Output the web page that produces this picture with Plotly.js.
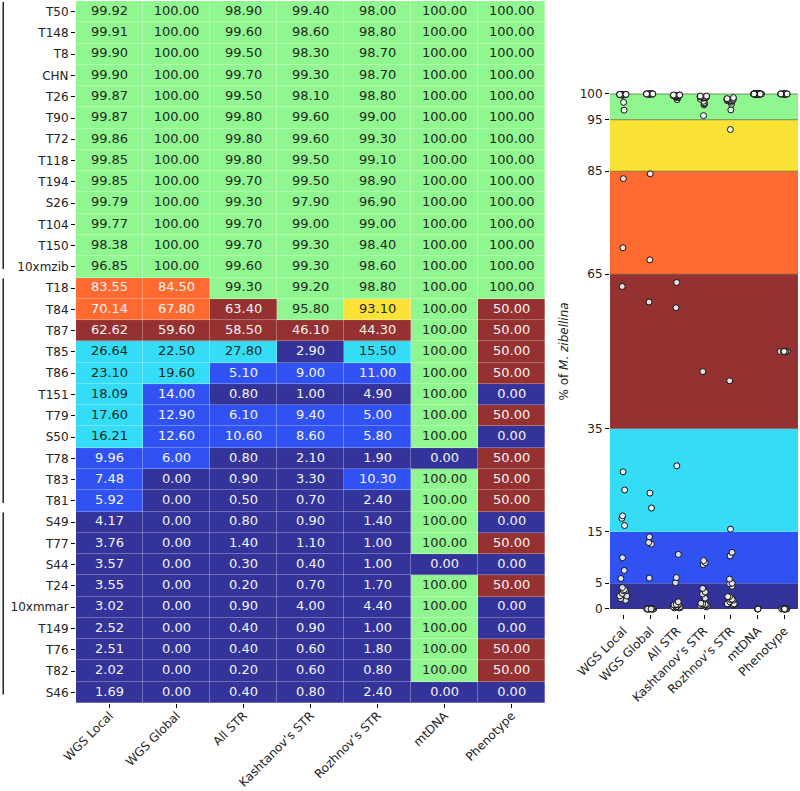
<!DOCTYPE html>
<html>
<head>
<meta charset="utf-8">
<script src="https://cdn.plot.ly/plotly-3.0.1.min.js"></script>
<style>html,body{margin:0;padding:0;background:#fff;}#chart{width:800px;height:791px;}</style>
</head>
<body>
<div id="chart"></div>
<script>
const samples = ["T50","T148","T8","CHN","T26","T90","T72","T118","T194","S26","T104","T150","10xmzib",
  "T18","T84","T87","T85","T86","T151","T79","S50","T78","T83","T81",
  "S49","T77","S44","T24","10xmmar","T149","T76","T82","S46"];
const groupSizes = [13, 11, 9];
const methods = ["WGS Local","WGS Global","All STR","Kashtanov\u2019s STR","Rozhnov\u2019s STR","mtDNA","Phenotype"];

const wgsLocal = [99.92,99.91,99.90,99.90,99.87,99.87,99.86,99.85,99.85,99.79,99.77,98.38,96.85,
  83.55,70.14,62.62,26.64,23.10,18.09,17.60,16.21,9.96,7.48,5.92,
  4.17,3.76,3.57,3.55,3.02,2.52,2.51,2.02,1.69];
const wgsGlobal = [100,100,100,100,100,100,100,100,100,100,100,100,100,
  84.50,67.80,59.60,22.50,19.60,14.00,12.90,12.60,6.00,0,0,
  0,0,0,0,0,0,0,0,0];
const allSTR = [98.90,99.60,99.50,99.70,99.50,99.80,99.80,99.80,99.70,99.30,99.70,99.70,99.60,
  99.30,63.40,58.50,27.80,5.10,0.80,6.10,10.60,0.80,0.90,0.50,
  0.80,1.40,0.30,0.20,0.90,0.40,0.40,0.20,0.40];
const kashtanovSTR = [99.40,98.60,98.30,99.30,98.10,99.60,99.60,99.50,99.50,97.90,99.00,99.30,99.30,
  99.20,95.80,46.10,2.90,9.00,1.00,9.40,8.60,2.10,3.30,0.70,
  0.90,1.10,0.40,0.70,4.00,0.90,0.60,0.60,0.80];
const rozhnovSTR = [98.00,98.80,98.70,98.70,98.80,99.00,99.30,99.10,98.90,96.90,99.00,98.40,98.60,
  98.80,93.10,44.30,15.50,11.00,4.90,5.00,5.80,1.90,10.30,2.40,
  1.40,1.00,1.00,1.70,4.40,1.00,1.80,0.80,2.40];
const mtDNA = [100,100,100,100,100,100,100,100,100,100,100,100,100,
  100,100,100,100,100,100,100,100,0,100,100,
  100,100,0,100,100,100,100,100,0];
const phenotype = [100,100,100,100,100,100,100,100,100,100,100,100,100,
  100,50,50,50,50,0,50,0,50,50,50,
  0,50,0,50,0,0,50,50,0];

const columns = [wgsLocal, wgsGlobal, allSTR, kashtanovSTR, rozhnovSTR, mtDNA, phenotype];

const binEdges = [0,5,15,35,65,85,95,100];
const binColors = ["#33339a","#3052f2","#35dcf6","#963132","#fe6a30","#fbe236","#90f68f"];
const darkTextBins = [2,5,6];

function binOf(v){
  for (let k = binEdges.length - 2; k >= 0; k--) if (v >= binEdges[k]) return k;
  return 0;
}

const z = samples.map((s,i) => columns.map(col => binOf(col[i])));
const n = binColors.length;
const colorscale = [];
binColors.forEach((c,k)=>{ colorscale.push([k/n,c]); colorscale.push([(k+1)/n,c]); });

const tx=[], ty=[], tt=[], tc=[];
samples.forEach((s,i)=>{
  columns.forEach((col,j)=>{
    tx.push(methods[j]); ty.push(s); tt.push(col[i].toFixed(2));
    tc.push(darkTextBins.includes(binOf(col[i])) ? "#1f2a1f" : "#f4f4f4");
  });
});

const traces = [
  {type:"heatmap", x:methods, y:samples, z:z, zmin:-0.5, zmax:n-0.5, colorscale:colorscale,
   showscale:false, xaxis:"x", yaxis:"y", hoverinfo:"skip", xgap:0.3, ygap:0.3},
  {type:"scatter", mode:"text", x:tx, y:ty, text:tt, xaxis:"x", yaxis:"y",
   textfont:{family:"DejaVu Sans", size:13, color:tc}, hoverinfo:"skip", showlegend:false}
];

columns.forEach((col,j)=>{
  traces.push({type:"box", x:col.map(()=>methods[j]), y:col, xaxis:"x2", yaxis:"y2",
    boxpoints:"all", jitter:0.4, pointpos:0, width:0.8,
    fillcolor:"rgba(0,0,0,0)", line:{color:"rgba(0,0,0,0)", width:0},
    marker:{size:6, color:"rgba(250,250,255,0.85)", line:{color:"#111", width:1}},
    hoverinfo:"skip", showlegend:false});
});

const shapes = [];
let start = 0;
groupSizes.forEach(g=>{
  shapes.push({type:"line", xref:"paper", yref:"y", x0:0.004, x1:0.004,
    y0:start-0.45, y1:start+g-1+0.1, line:{color:"#000", width:1.3}});
  start += g;
});
for (let k=0;k<n;k++){
  shapes.push({type:"rect", xref:"x2 domain", yref:"y2", x0:0, x1:1,
    y0:binEdges[k], y1:binEdges[k+1], fillcolor:binColors[k], line:{width:0}, layer:"below"});
}
[100,95,85,65].forEach(v=>{
  shapes.push({type:"line", xref:"x2 domain", yref:"y2", x0:0, x1:1, y0:v, y1:v,
    line:{color:"rgba(40,60,40,0.55)", width:1}, layer:"below"});
});

const tickFont = {family:"DejaVu Sans", size:12, color:"#222"};
const layout = {
  width:800, height:791, margin:{l:0,r:0,t:0,b:0,autoexpand:false},
  paper_bgcolor:"#fff", plot_bgcolor:"rgba(0,0,0,0)",
  showlegend:false, shapes:shapes,
  xaxis:{domain:[0.095,0.6815], type:"category", range:[-0.5, methods.length-0.5], tickangle:-45,
    ticks:"outside", ticklen:4, tickcolor:"#000", tickfont:tickFont, showgrid:false, zeroline:false,
    showline:false, automargin:false, ticklabelstandoff:-4},
  yaxis:{domain:[0.1113,0.9987], type:"category", range:[samples.length-0.5, -0.5], ticks:"outside", ticklen:4,
    tickcolor:"#000", tickfont:tickFont, showgrid:false, zeroline:false, showline:false, automargin:false},
  xaxis2:{domain:[0.7625,0.9975], anchor:"y2", type:"category", range:[-0.5,6.5], tickangle:-45,
    ticks:"outside", ticklen:4, tickcolor:"#000", tickfont:tickFont, showgrid:false, zeroline:false,
    showline:false, automargin:false},
  yaxis2:{domain:[0.2236,0.8877], anchor:"x2", range:[-1,101], tickvals:binEdges, ticks:"outside", ticklen:4,
    tickcolor:"#000", tickfont:tickFont, showgrid:false, zeroline:false, showline:false, automargin:false,
    title:{text:"% of <i>M. zibellina</i>", font:{family:"DejaVu Sans", size:12, color:"#222"}, standoff:8}}
};

Plotly.newPlot("chart", traces, layout, {staticPlot:true});
</script>
</body>
</html>
